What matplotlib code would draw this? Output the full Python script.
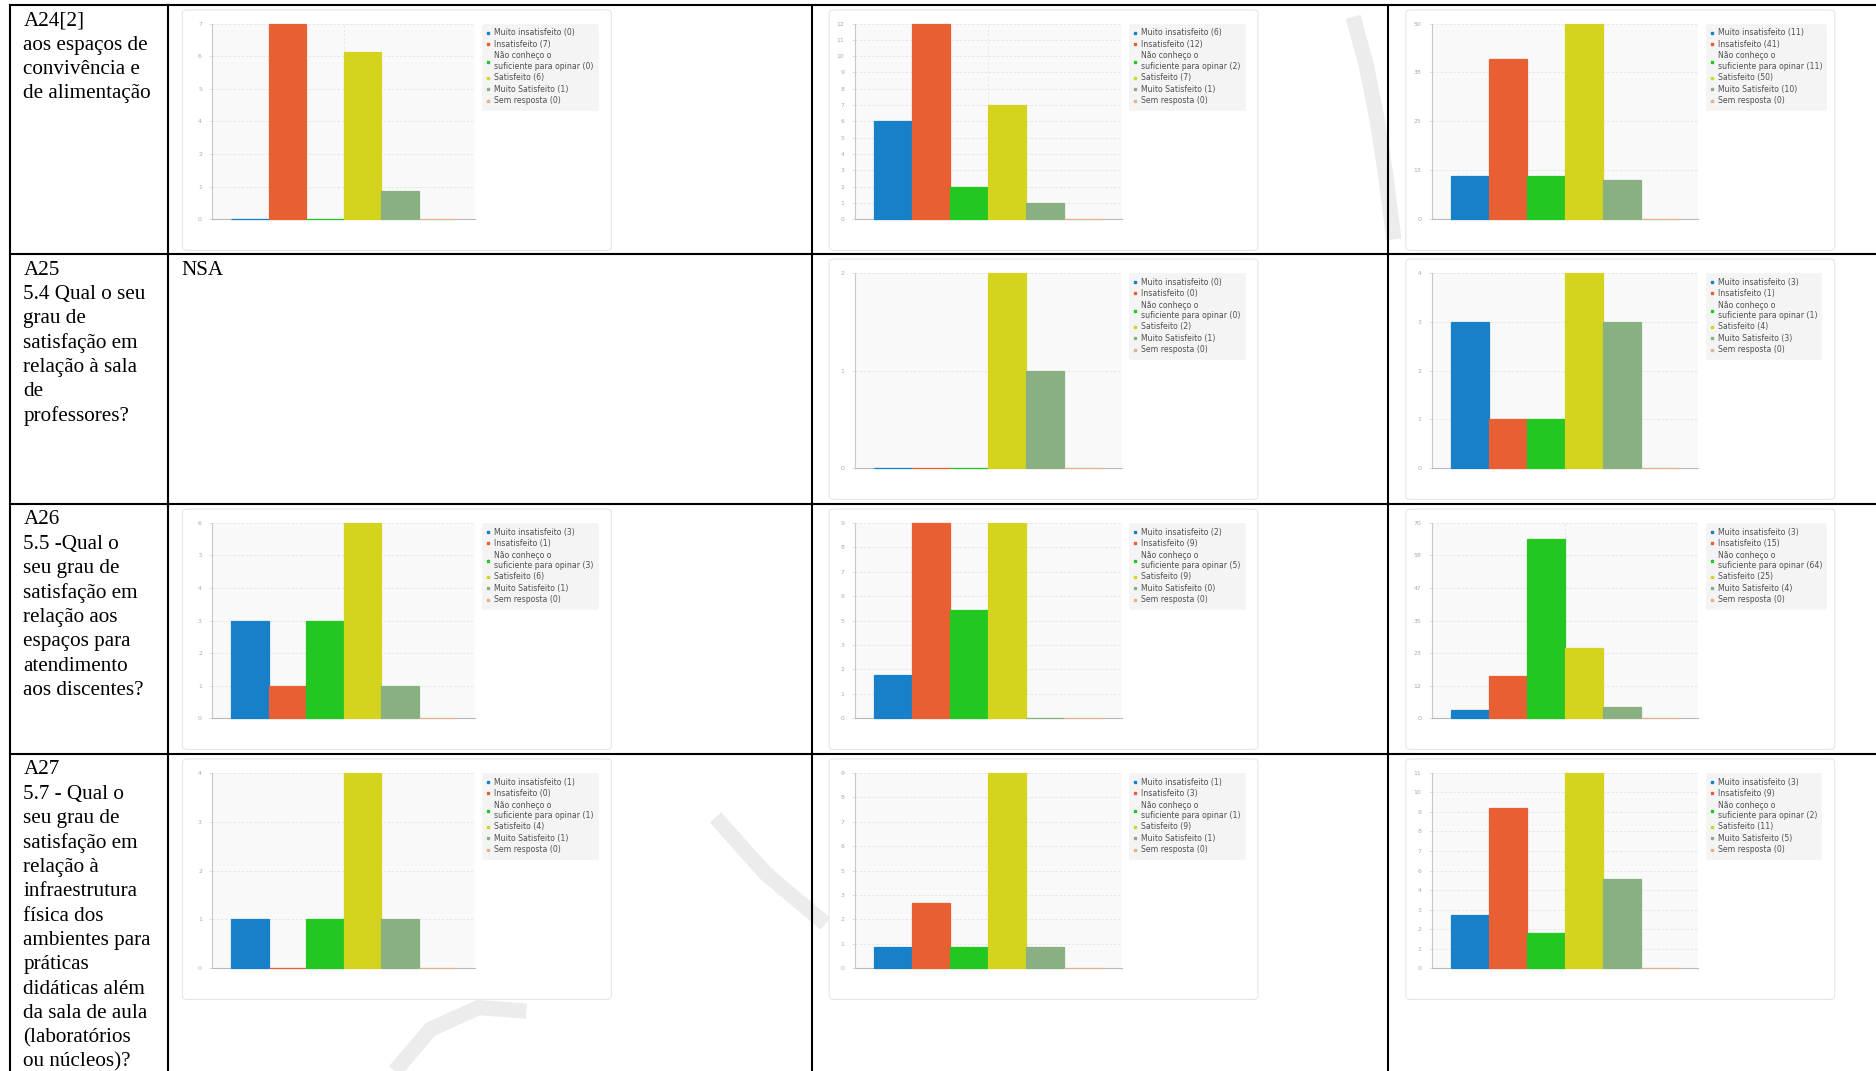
#!/usr/bin/env python3
"""
Tabela de satisfação (A24[2]..A27) com os gráficos de barras de cada segmento
"""

import numpy as np
import matplotlib.pyplot as plt
from matplotlib.patches import FancyBboxPatch
from matplotlib.lines import Line2D

# referência medida numa escala de 1568 x 895
W, H = 1568.0, 895.0

categorias = ['Muito insatisfeito', 'Insatisfeito', 'Não conheço o\nsuficiente para opinar',
              'Satisfeito', 'Muito Satisfeito', 'Sem resposta']
cores = ['#1780c9', '#e85f33', '#22c722', '#d4d41e', '#88b080', '#e6b08c']

perguntas = [
    ['A24[2]', 'aos espaços de', 'convivência e', 'de alimentação'],
    ['A25', '5.4 Qual o seu', 'grau de', 'satisfação em', 'relação à sala', 'de', 'professores?'],
    ['A26', '5.5 -Qual o', 'seu grau de', 'satisfação em', 'relação aos', 'espaços para',
     'atendimento', 'aos discentes?'],
    ['A27', '5.7 - Qual o', 'seu grau de', 'satisfação em', 'relação à', 'infraestrutura',
     'física dos', 'ambientes para', 'práticas', 'didáticas além', 'da sala de aula',
     '(laboratórios', 'ou núcleos)?'],
]

# contagens por coluna (None = NSA)
col1 = [[0, 7, 0, 6, 1, 0], None, [3, 1, 3, 6, 1, 0], [1, 0, 1, 4, 1, 0]]
col2 = [[6, 12, 2, 7, 1, 0], [0, 0, 0, 2, 1, 0], [2, 9, 5, 9, 0, 0], [1, 3, 1, 9, 1, 0]]
col3 = [[11, 41, 11, 50, 10, 0], [3, 1, 1, 4, 3, 0], [3, 15, 64, 25, 4, 0], [3, 9, 2, 11, 5, 0]]

# escala do eixo y de cada gráfico (máximo, número de marcas)
ymax1 = [7, None, 6, 4]
nticks1 = [7, None, 7, 5]
ymax2 = [12, 2, 9, 9]
nticks2 = [13, 3, 9, 9]
ymax3 = [50, 4, 70, 11]
nticks3 = [5, 5, 7, 11]

# layout (coordenadas da referência)
row_tops = [4.2, 212.4, 421.3, 630.2]
col_lines = [8, 140, 679, 1160.5]
card_lefts = [152.5, 693.0, 1175.0]
axis_off = [25.0, 21.5, 21.5]

# marca d'água (traços cinza claro atrás dos gráficos)
marca_x = [[1131, 1142, 1151, 1158, 1165], [598, 640, 690], [330, 360, 400, 440]]
marca_y = [[14, 55, 100, 145, 200], [683, 730, 772], [895, 860, 842, 845]]


def fx(x):
    return x / W


def fy(y):
    return 1 - y / H


def draw_chart(fig, card_left, axoff, row_top, vals, ymax, nt):
    card_top = row_top + 4
    card_w, card_h = 358.5, 201
    card = FancyBboxPatch((fx(card_left), fy(card_top + card_h)), card_w / W, card_h / H,
                          boxstyle='round,pad=0,rounding_size=0.003',
                          transform=fig.transFigure, facecolor='white',
                          edgecolor='#e6e6e6', linewidth=0.8, zorder=1)
    fig.patches.append(card)

    left = card_left + axoff
    right = card_left + 244.5
    top = row_top + 15.5
    zero = row_top + 179
    ax = fig.add_axes([fx(left), fy(zero), (right - left) / W, (zero - top) / H], zorder=2)
    ax.set_facecolor('#f9f9f9')

    x = np.arange(len(vals))
    ax.bar(x, vals, width=1.0, color=cores, edgecolor=cores, linewidth=0.9,
           zorder=3, clip_on=False)
    ax.set_xlim(-1, 6)
    ax.set_ylim(0, ymax)

    ticks = np.linspace(0, ymax, nt)
    ax.set_yticks(ticks)
    ax.set_yticklabels([str(int(np.floor(t + 0.5))) for t in ticks])
    ax.set_xticks([2.5])
    ax.tick_params(axis='x', length=0, labelbottom=False)
    ax.tick_params(axis='y', length=2.5, width=0.5, color='#d5d5d5', pad=5,
                   labelsize=4.4, labelcolor='#aaaaaa')
    ax.grid(True, linestyle=(0, (3, 2)), color='#e4e4e4', linewidth=0.6)
    ax.set_axisbelow(True)
    for s in ['top', 'right']:
        ax.spines[s].set_visible(False)
    ax.spines['left'].set_color('#c8c8c8')
    ax.spines['bottom'].set_color('#b8b8b8')
    ax.spines['left'].set_linewidth(0.8)
    ax.spines['bottom'].set_linewidth(0.8)

    handles = [Line2D([], [], marker='s', markersize=2.0, linestyle='none', color=c) for c in cores]
    labels = [f'{c} ({v})' for c, v in zip(categorias, vals)]
    leg = ax.legend(handles, labels, loc='upper left',
                    bbox_to_anchor=(fx(card_left + 250.5), fy(top + 0.5)),
                    bbox_transform=fig.transFigure, borderaxespad=0,
                    fontsize=5.6, labelspacing=0.32, handlelength=0.5, handletextpad=0.5,
                    borderpad=0.55, frameon=True, fancybox=True, facecolor='#f4f4f4',
                    edgecolor='#f4f4f4', framealpha=1.0)
    leg.get_frame().set_linewidth(0.5)
    for t in leg.get_texts():
        t.set_color('#505050')
    return ax


def main():
    fig = plt.figure(figsize=(18.76, 10.71), dpi=100)
    fig.patch.set_facecolor('white')

    # marca d'água
    for xs, ys in zip(marca_x, marca_y):
        fig.add_artist(Line2D([fx(v) for v in xs], [fy(v) for v in ys], color='#ececec',
                              linewidth=11, solid_capstyle='butt', solid_joinstyle='round',
                              transform=fig.transFigure, zorder=0))

    # linhas da tabela
    lw = 1.5
    for y in row_tops:
        fig.add_artist(Line2D([fx(col_lines[0]), 1.0], [fy(y), fy(y)], color='black',
                              linewidth=lw, transform=fig.transFigure, zorder=5))
    for x in col_lines:
        fig.add_artist(Line2D([fx(x), fx(x)], [fy(row_tops[0]), 0.0], color='black',
                              linewidth=lw, transform=fig.transFigure, zorder=5))

    # textos das perguntas
    for r, linhas in enumerate(perguntas):
        base = row_tops[r] + 17
        for i, linha in enumerate(linhas):
            fig.text(fx(19.5), fy(base + i * 20.35), linha, fontsize=15.2,
                     family='Liberation Serif', va='baseline', ha='left', color='black')

    cols = [(col1, ymax1, nticks1), (col2, ymax2, nticks2), (col3, ymax3, nticks3)]
    for c, (dados, ymaxs, nts) in enumerate(cols):
        for r in range(4):
            if dados[r] is None:
                fig.text(fx(152), fy(row_tops[r] + 17), 'NSA', fontsize=15.2,
                         family='Liberation Serif', va='baseline', ha='left')
                continue
            draw_chart(fig, card_lefts[c], axis_off[c], row_tops[r], dados[r], ymaxs[r], nts[r])

    fig.savefig('out.png', dpi=100, facecolor='white')
    plt.close(fig)


if __name__ == '__main__':
    main()
